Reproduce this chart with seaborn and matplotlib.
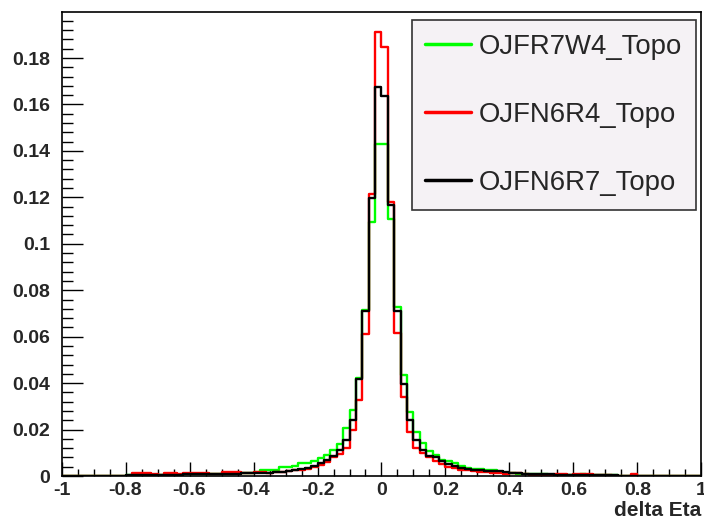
import numpy as np
import pandas as pd
import matplotlib.pyplot as plt
import seaborn as sns
from matplotlib.ticker import MultipleLocator, FuncFormatter

# histogram of delta Eta, 100 bins of width 0.02 from -1 to 1
bin_edges = list(np.round(np.linspace(-1, 1, 101), 2))
bin_centers = [round(e + 0.01, 2) for e in bin_edges[:-1]]

labels = ['OJFR7W4_Topo', 'OJFN6R4_Topo', 'OJFN6R7_Topo']
colors = ['#00ff00', '#ff0000', '#000000']

green = [0] * 10 + [
    .0003, .0003, .0004, .0004, .0005, .0005, .0005, .0006, .0006, .0007,
    .0007, .0008, .0008, .0009, .0009, .0010, .0010, .0011, .0012, .0014,
    .0016, .0024, .0026, .0026, .0038, .0040, .0042, .0054, .0056, .0066,
    .0077, .0091, .0113, .0137, .0205, .0284, .0420, .0715, .1092, .1429,
    .1429, .1107, .0726, .0433, .0274, .0188, .0141, .0108, .0091, .0070,
    .0063, .0056, .0042, .0036, .0032, .0030, .0028, .0024, .0018, .0014,
    .0012, .0010, .0009, .0008, .0007, .0007, .0006, .0006, .0005, .0005,
    .0006, .0010, .0005, .0004, .0003, .0003, .0003, .0002, .0002, .0002,
] + [0] * 10

red = [0] * 10 + [
    0, .0012, .0012, .0012, .0010, .0006, .0012, .0012, .0008, .0012,
    .0014, .0014, .0014, .0010, .0010, .0018, .0018, .0018, .0012, .0012,
    .0016, .0016, .0015, .0016, .0018, .0020, .0025, .0028, .0030, .0038,
    .0048, .0060, .0080, .0094, .0120, .0198, .0327, .0612, .1215, .1914,
    .1847, .1182, .0616, .0341, .0191, .0120, .0098, .0080, .0066, .0051,
    .0040, .0034, .0028, .0024, .0020, .0018, .0016, .0014, .0012, .0010,
    .0014, .0014, .0008, .0006, .0006, .0005, .0005, .0008, .0010, .0006,
    .0010, .0010, .0010, .0004, .0003, .0003, .0002, .0002, .0002, .0010,
] + [0] * 10

black = [0] * 10 + [
    .0003, .0004, .0004, .0005, .0005, .0005, .0006, .0006, .0006, .0007,
    .0007, .0008, .0008, .0008, .0009, .0009, .0010, .0010, .0011, .0011,
    .0012, .0013, .0014, .0016, .0018, .0020, .0026, .0032, .0036, .0045,
    .0056, .0070, .0088, .0113, .0155, .0241, .0419, .0712, .1197, .1676,
    .1638, .1168, .0712, .0398, .0241, .0155, .0113, .0088, .0080, .0063,
    .0050, .0042, .0034, .0030, .0028, .0024, .0022, .0020, .0020, .0016,
    .0012, .0011, .0010, .0009, .0008, .0007, .0007, .0006, .0006, .0005,
    .0005, .0005, .0004, .0004, .0003, .0003, .0003, .0002, .0002, .0002,
] + [0] * 10

sns.set_style('white')
plt.rcParams['font.family'] = ['Liberation Sans', 'DejaVu Sans']

fig = plt.figure(figsize=(7.04, 5.25), dpi=100)
ax = fig.add_axes([0.0874, 0.0933, 0.909, 0.8838])

for vals, col, lab in zip([green, red, black], colors, labels):
    df = pd.DataFrame({'deta': bin_centers, 'w': vals})
    sns.histplot(data=df, x='deta', weights='w', bins=bin_edges, element='step',
                 fill=False, color=col, linewidth=1.7, label=lab, ax=ax)

ax.set_xlim(-1, 1)
ax.set_ylim(0, 0.1998)
ax.set_ylabel('')
ax.set_xlabel('delta Eta', loc='right', fontsize=15, fontweight='bold', labelpad=2)

ax.xaxis.set_major_locator(MultipleLocator(0.2))
ax.xaxis.set_minor_locator(MultipleLocator(0.05))
ax.yaxis.set_major_locator(MultipleLocator(0.02))
ax.yaxis.set_minor_locator(MultipleLocator(0.004))
fmt = FuncFormatter(lambda v, p: '%g' % round(v, 3))
ax.xaxis.set_major_formatter(fmt)
ax.yaxis.set_major_formatter(fmt)
ax.tick_params(which='both', bottom=True, left=True, top=False, right=False,
               color='black')
ax.tick_params(axis='x', which='major', direction='in', length=10, width=1, pad=4)
ax.tick_params(axis='x', which='minor', direction='in', length=5, width=1)
ax.tick_params(axis='y', which='major', direction='in', length=15, width=1, pad=8)
ax.tick_params(axis='y', which='minor', direction='in', length=8, width=1)
for t in ax.get_xticklabels() + ax.get_yticklabels():
    t.set_fontweight('bold')
    t.set_fontsize(14)
for s in ax.spines.values():
    s.set_color('black')
    s.set_linewidth(1.2)

handles, labs = ax.get_legend_handles_labels()
leg = ax.legend(handles, labs, loc='upper right', bbox_to_anchor=(0.9914, 0.983),
                fontsize=19.8, frameon=True, fancybox=False, framealpha=1,
                facecolor='#f5f2f5', edgecolor='#333333', handlelength=1.65,
                handletextpad=0.3, labelspacing=1.53, borderpad=0.5,
                borderaxespad=0)
leg.get_frame().set_linewidth(1.2)
for line in leg.get_lines():
    line.set_linewidth(2.5)

fig.savefig('out.png', dpi=100)
